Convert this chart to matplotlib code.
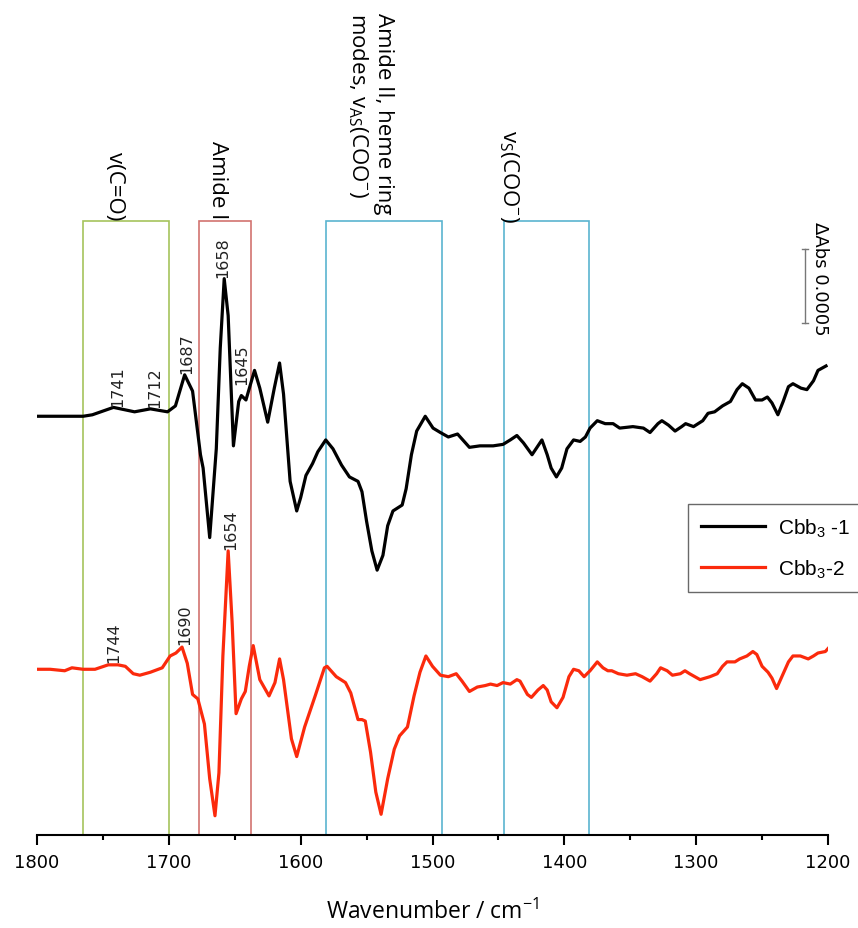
import matplotlib
matplotlib.use("Agg")
import matplotlib.pyplot as plt
from matplotlib.patches import Rectangle

plt.rcParams["mathtext.default"] = "regular"

# difference spectra, dAbs in units of 1e-5 relative to each baseline
black_wn = [1800, 1765, 1758, 1742, 1726, 1714, 1701, 1695, 1688, 1682,
            1676, 1674, 1669, 1664, 1661, 1658, 1655, 1651, 1647, 1645,
            1641.5, 1635, 1631, 1625, 1620, 1616, 1613, 1608, 1603, 1600,
            1596, 1591, 1587, 1581, 1575.5, 1569, 1563, 1556.5, 1553.5, 1550,
            1546, 1542, 1537.6, 1534, 1530, 1523, 1520, 1516, 1512, 1505.5,
            1499.6, 1494, 1488, 1481, 1477, 1472, 1464, 1459, 1454, 1446.5,
            1441, 1436, 1431, 1424.5, 1420, 1417, 1413, 1410, 1406, 1402,
            1398, 1393, 1388, 1384, 1380.5, 1375, 1369, 1363, 1358, 1348,
            1340, 1335, 1329, 1326, 1321, 1316, 1311, 1308, 1302, 1295,
            1291, 1286, 1280, 1274, 1269, 1265, 1260, 1255, 1250, 1246,
            1242.5, 1238, 1234, 1230, 1226.6, 1220.5, 1216, 1211, 1207.6, 1201.5]
black_dA = [0, 0, 1, 6, 3, 5, 3, 7, 28, 17,
            -26, -35, -82, -22, 46, 93, 68, -20, 10, 14,
            11, 31, 19, -4, 19, 36, 15, -44, -64, -55,
            -40, -32, -24, -16, -22, -33, -41, -44, -51, -71,
            -91, -104, -94, -74, -64, -60, -49, -26, -10, 0,
            -8, -11, -14, -12, -16, -21, -20, -20, -20, -19,
            -16, -13, -18, -26, -20, -16, -26, -35, -41, -35,
            -22, -16, -17, -14, -8, -3, -5, -5, -8, -7,
            -8, -11, -5, -3, -6, -10, -7, -5, -7, -3,
            2, 3, 7, 10, 18, 22, 19, 11, 11, 13,
            9, 1, 10, 20, 22, 19, 18, 24, 31, 34]

red_wn = [1800, 1790, 1779, 1773.5, 1765, 1756, 1746, 1738.5, 1733, 1727,
          1722, 1714, 1705, 1699, 1694.6, 1690, 1686, 1682, 1678, 1673,
          1669, 1665, 1662, 1659, 1655, 1652, 1649, 1645, 1642, 1639,
          1636, 1631, 1624, 1619.5, 1616, 1613, 1607, 1603, 1597, 1589,
          1582, 1580, 1573, 1566, 1562, 1556.5, 1553.5, 1551, 1547, 1543,
          1539, 1534, 1529, 1525, 1519, 1514, 1509.5, 1505, 1500, 1494,
          1488, 1482, 1477.6, 1472, 1466, 1460, 1456, 1451, 1446.5, 1441,
          1436, 1433.6, 1428, 1425, 1420, 1416, 1413, 1410, 1405.6, 1401,
          1396.5, 1393, 1389, 1385, 1380.5, 1375, 1370.7, 1367, 1364, 1359,
          1352.5, 1346, 1341, 1335, 1330, 1327, 1322, 1318, 1312, 1308.5,
          1305, 1299, 1297, 1289.5, 1284, 1280, 1276.6, 1270.6, 1267, 1261.5,
          1257, 1254, 1250, 1245.5, 1242.5, 1239, 1235, 1230, 1226.6, 1221,
          1215, 1211, 1207.6, 1202, 1200]
red_dA = [0, 0, -1, 1, 0, 0, 3, 3, 2, -3,
          -4, -2, 1, 9, 11, 15, 4, -17, -20, -37,
          -74, -99, -70, 9, 80, 32, -30, -20, -15, 2,
          16, -7, -18, -9, 7, -7, -47, -59, -39, -18,
          1, 2, -5, -9, -16, -34, -34, -35, -56, -83,
          -98, -74, -54, -45, -39, -18, -2, 9, 2, -4,
          -5, -3, -8, -15, -12, -11, -10, -11, -9, -10,
          -7, -8, -17, -19, -14, -11, -14, -22, -26, -19,
          -5, 0, -1, -5, -1, 5, 1, -1, -1, -3,
          -4, -3, -5, -8, -3, 1, -1, -4, -3, -1,
          -3, -6, -7, -5, -3, 2, 5, 5, 7, 9,
          12, 10, 2, -2, -6, -13, -5, 5, 9, 9,
          7, 9, 11, 12, 14]

black_offset = 283
red_offset = 112

# marked regions (wavenumber ranges) and their labels
region_lo = [1700, 1638, 1493, 1381]
region_hi = [1765, 1677, 1581, 1446]
region_colors = ["#a6c35c", "#d27370", "#5ab4cf", "#5ab4cf"]
region_labels = ["v(C=O)", "Amide I",
                 "Amide II, heme ring\nmodes, v$_{AS}$(COO$^{-}$)",
                 "v$_{S}$(COO$^{-}$)"]
region_label_x = [1741.5, 1663, 1547.5, 1442]
region_label_top = [462, 470, 556, 477]
box_top = 415

# peak labels
black_peaks = ["1741", "1712", "1687", "1658", "1645"]
black_peak_x = [1738.6, 1710.5, 1686.2, 1659, 1644.5]
black_peak_y = [290, 289, 312, 377, 305]
red_peaks = ["1744", "1690", "1654"]
red_peak_x = [1741.6, 1687.7, 1653]
red_peak_y = [117, 129, 193]

fig = plt.figure(figsize=(8.58, 9.29), dpi=100)
ax = fig.add_axes([37 / 858, 93 / 929, 791 / 858, 836 / 929])

for lo, hi, c in zip(region_lo, region_hi, region_colors):
    ax.add_patch(Rectangle((lo, 0), hi - lo, box_top, fill=False,
                           edgecolor=c, linewidth=1.2, zorder=1))

black_y = [v + black_offset for v in black_dA]
red_y = [v + red_offset for v in red_dA]
ax.plot(black_wn, black_y, color="black", linewidth=2.3,
        solid_joinstyle="round", label="Cbb$_3$ -1", zorder=3)
ax.plot(red_wn, red_y, color="#fb2a0c", linewidth=2.3,
        solid_joinstyle="round", label="Cbb$_3$-2", zorder=3)

for lab, x, y in zip(region_labels, region_label_x, region_label_top):
    ax.text(x, y, lab, rotation=270, ha="center", va="top",
            fontsize=16, family="Open Sans", multialignment="left")

for lab, x, y in zip(black_peaks + red_peaks, black_peak_x + red_peak_x,
                     black_peak_y + red_peak_y):
    ax.text(x, y, lab, rotation=90, ha="center", va="bottom",
            fontsize=11.5, color="#222222")

# scale bar: 0.0005 dAbs = 50 units
ax.plot([1217.5, 1217.5], [346, 396], color="#777777", linewidth=1)
ax.plot([1219.8, 1215.2], [346, 346], color="#777777", linewidth=1)
ax.plot([1219.8, 1215.2], [396, 396], color="#777777", linewidth=1)
ax.text(1206, 415, "ΔAbs 0.0005", rotation=270, ha="center", va="top",
        fontsize=13)

ax.set_xlim(1800, 1200)
ax.set_ylim(0, 565)
ax.set_xticks([1800, 1700, 1600, 1500, 1400, 1300, 1200])
ax.set_xticks([1750, 1650, 1550, 1450, 1350, 1250], minor=True)
ax.tick_params(axis="x", which="major", length=7, width=1.5, labelsize=13,
               pad=6)
ax.tick_params(axis="x", which="minor", length=3.5, width=1.5)
ax.set_yticks([])
for s in ["left", "top", "right"]:
    ax.spines[s].set_visible(False)
ax.spines["bottom"].set_linewidth(1.5)
ax.set_xlabel("Wavenumber / cm$^{-1}$", fontsize=16.5, family="Open Sans",
              labelpad=20)

leg = ax.legend(loc="upper left", bbox_to_anchor=(688 / 858, 1 - 505 / 929),
                bbox_transform=fig.transFigure, borderaxespad=0,
                fancybox=False, frameon=True, edgecolor="#444444",
                prop={"family": "Liberation Sans", "size": 15},
                handlelength=3.1, handletextpad=0.6, labelspacing=0.9,
                borderpad=0.6)
leg.get_frame().set_linewidth(1)

fig.savefig("out.png", dpi=100)
